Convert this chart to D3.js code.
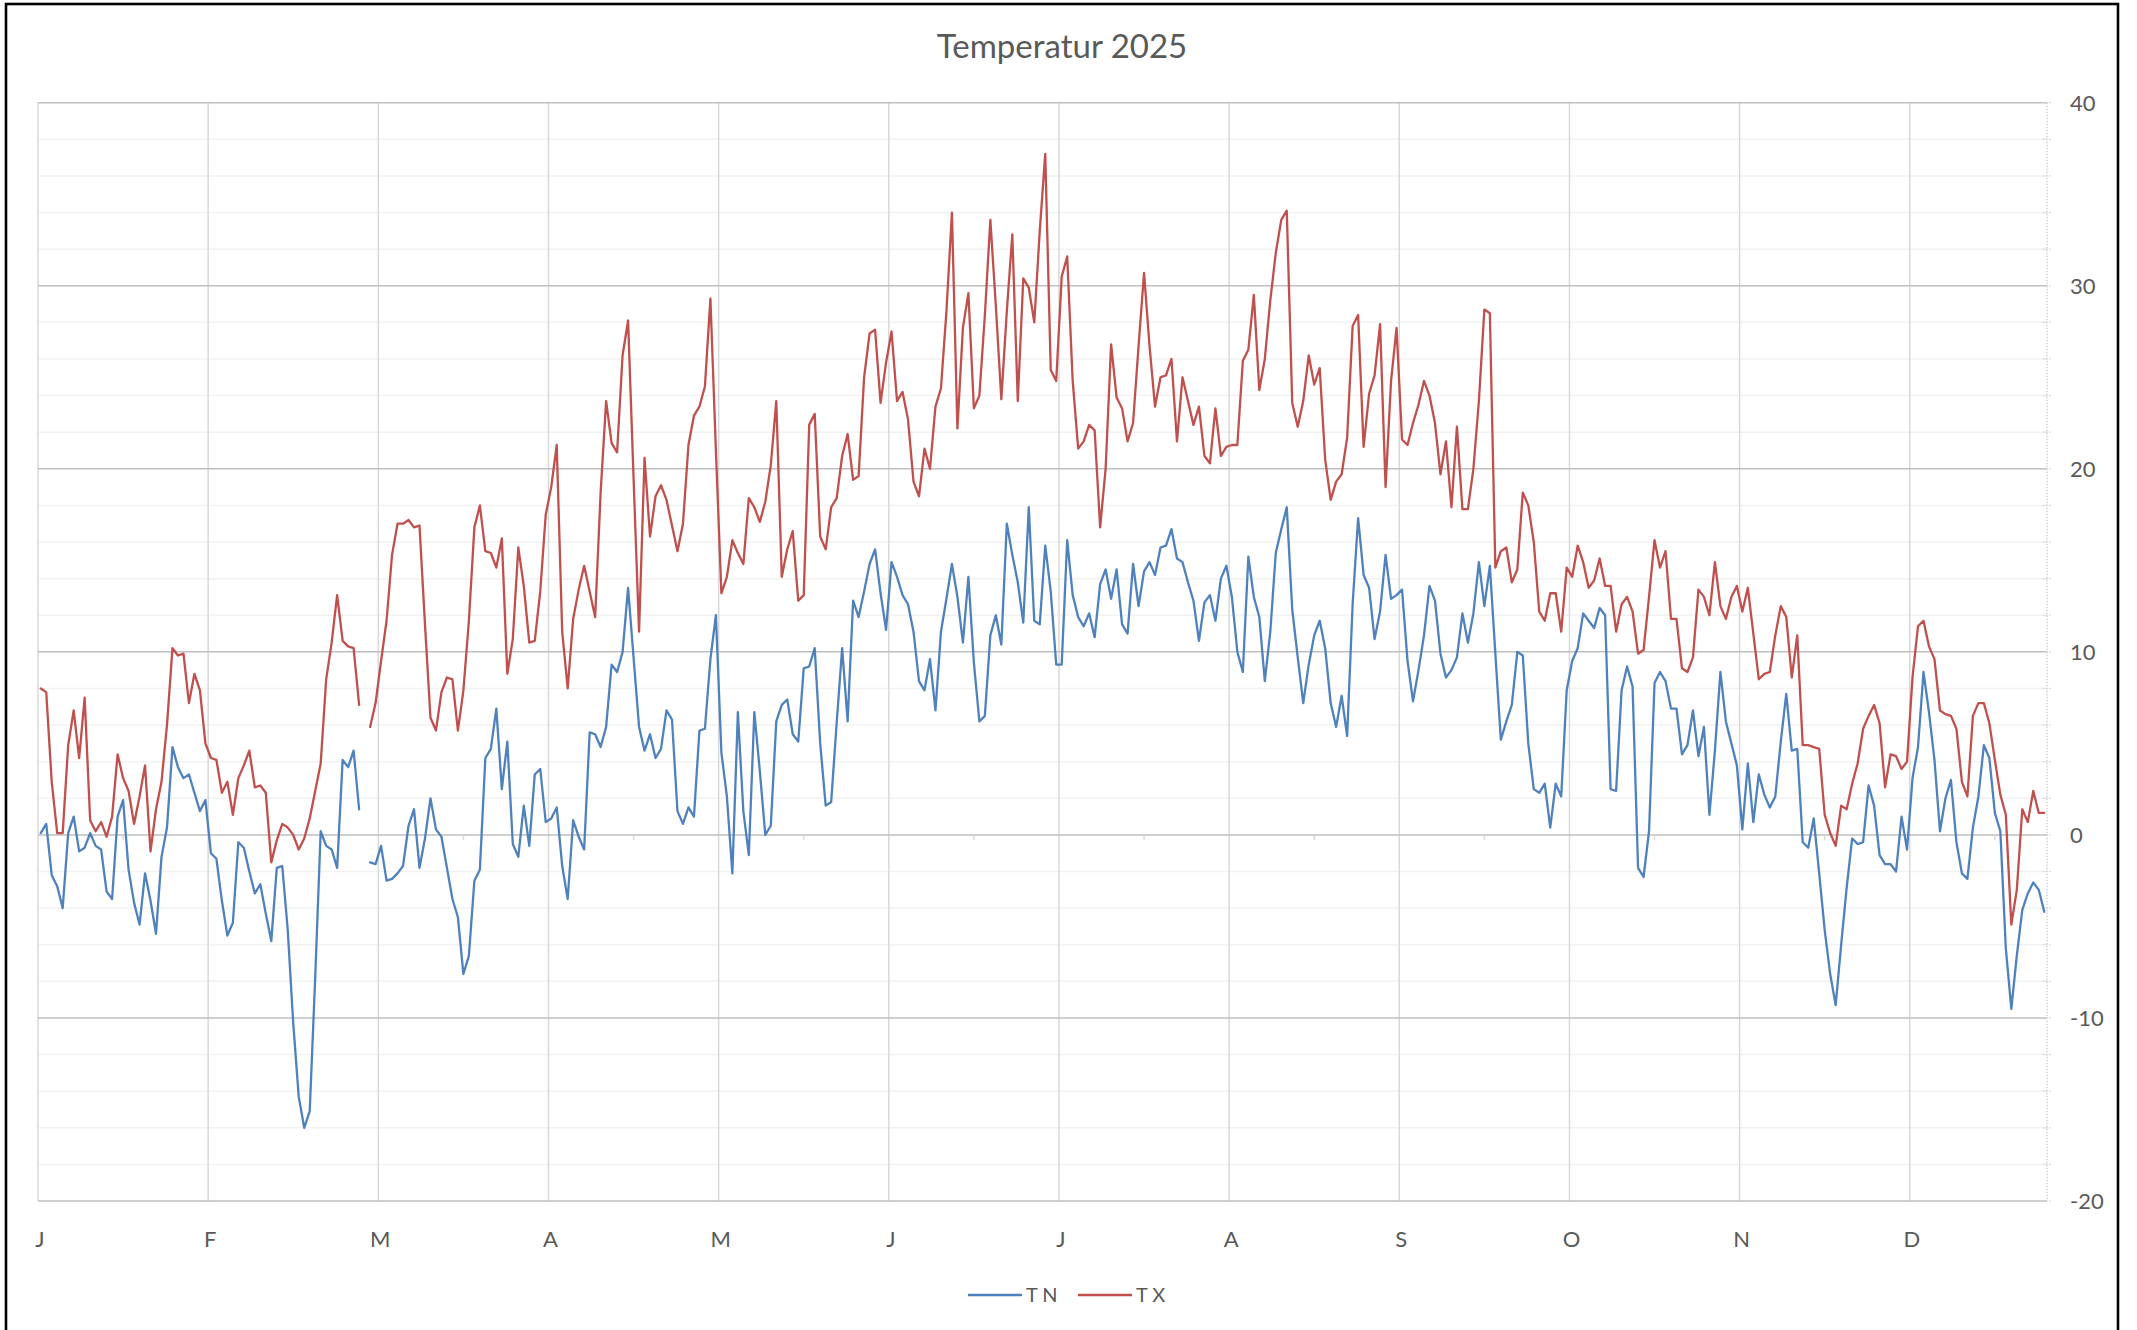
<!DOCTYPE html>
<html>
<head>
<meta charset="utf-8">
<title>Temperatur 2025</title>
<script src="https://cdn.jsdelivr.net/npm/d3@7"></script>
<style>
  html, body { margin: 0; padding: 0; background: #fff; }
  svg { display: block; font-family: Lato, "Open Sans", sans-serif; }
</style>
</head>
<body>
<svg id="chart" width="2137" height="1330"></svg>
<script>
'use strict';

// category template: 366 rows, Feb 29 stays empty in 2025
var monthLabels = ["J", "F", "M", "A", "M", "J", "J", "A", "S", "O", "N", "D"];
var templateDays = [31, 29, 31, 30, 31, 30, 31, 31, 30, 31, 30, 31];
var yTicks = [-20, -10, 0, 10, 20, 30, 40];

// TX daily maximum
var txJan = [8.0, 7.8, 2.9, 0.1, 0.1, 4.9, 6.8, 4.2, 7.5, 0.8, 0.2, 0.7, -0.1, 1.0, 4.4, 3.1, 2.4, 0.6, 2.1, 3.8, -0.9, 1.4, 2.9, 6.0, 10.2, 9.8, 9.9, 7.2, 8.8, 7.9, 5.0];
var txFeb = [4.2, 4.1, 2.3, 2.9, 1.1, 3.1, 3.8, 4.6, 2.6, 2.7, 2.3, -1.5, -0.3, 0.6, 0.4, 0.0, -0.8, -0.2, 0.9, 2.4, 3.9, 8.5, 10.5, 13.1, 10.6, 10.3, 10.2, 7.1];
var txMar = [5.9, 7.2, 9.5, 11.7, 15.3, 17.0, 17.0, 17.2, 16.8, 16.9, 11.5, 6.4, 5.7, 7.8, 8.6, 8.5, 5.7, 7.9, 11.7, 16.8, 18.0, 15.5, 15.4, 14.6, 16.2, 8.8, 10.7, 15.7, 13.6, 10.5, 10.6];
var txApr = [13.3, 17.5, 19.0, 21.3, 11.1, 8.0, 11.8, 13.4, 14.7, 13.3, 11.9, 18.7, 23.7, 21.4, 20.9, 26.2, 28.1, 19.5, 11.1, 20.6, 16.3, 18.5, 19.1, 18.3, 16.9, 15.5, 17.0, 21.3, 22.9, 23.4];
var txMay = [24.5, 29.3, 21.0, 13.2, 14.1, 16.1, 15.4, 14.8, 18.4, 17.9, 17.1, 18.2, 20.2, 23.7, 14.1, 15.6, 16.6, 12.8, 13.1, 22.4, 23.0, 16.3, 15.6, 17.9, 18.4, 20.7, 21.9, 19.4, 19.6, 25.0, 27.4];
var txJun = [27.6, 23.6, 25.8, 27.5, 23.7, 24.2, 22.7, 19.3, 18.5, 21.1, 20.0, 23.4, 24.4, 28.6, 34.0, 22.2, 27.7, 29.6, 23.3, 24.0, 28.4, 33.6, 28.9, 23.8, 28.6, 32.8, 23.7, 30.4, 29.9, 28.0];
var txJul = [33.0, 37.2, 25.4, 24.8, 30.5, 31.6, 24.8, 21.1, 21.5, 22.4, 22.1, 16.8, 20.0, 26.8, 23.9, 23.3, 21.5, 22.5, 26.7, 30.7, 26.7, 23.4, 25.0, 25.1, 26.0, 21.5, 25.0, 23.7, 22.4, 23.4, 20.7];
var txAug = [20.3, 23.3, 20.7, 21.2, 21.3, 21.3, 25.9, 26.5, 29.5, 24.3, 26.0, 29.2, 31.8, 33.6, 34.1, 23.6, 22.3, 23.7, 26.2, 24.6, 25.5, 20.5, 18.3, 19.3, 19.7, 21.7, 27.8, 28.4, 21.2, 24.1, 25.1];
var txSep = [27.9, 19.0, 24.8, 27.7, 21.6, 21.3, 22.5, 23.5, 24.8, 24.0, 22.5, 19.7, 21.5, 17.9, 22.3, 17.8, 17.8, 20.0, 23.7, 28.7, 28.5, 14.6, 15.5, 15.7, 13.8, 14.5, 18.7, 18.0, 16.0, 12.2];
var txOct = [11.7, 13.2, 13.2, 11.1, 14.6, 14.1, 15.8, 14.9, 13.5, 13.9, 15.1, 13.6, 13.6, 11.1, 12.6, 13.0, 12.2, 9.9, 10.1, 13.0, 16.1, 14.6, 15.5, 11.8, 11.8, 9.1, 8.9, 9.7, 13.4, 13.0, 12.0];
var txNov = [14.9, 12.5, 11.8, 13.0, 13.6, 12.2, 13.5, 11.0, 8.5, 8.8, 8.9, 10.9, 12.5, 11.9, 8.6, 10.9, 4.9, 4.9, 4.8, 4.7, 1.1, 0.1, -0.6, 1.6, 1.4, 2.8, 3.9, 5.8, 6.5, 7.1];
var txDec = [6.1, 2.6, 4.4, 4.3, 3.6, 4.0, 8.6, 11.4, 11.7, 10.3, 9.6, 6.8, 6.6, 6.5, 5.8, 2.9, 2.1, 6.5, 7.2, 7.2, 6.1, 4.1, 2.2, 1.1, -4.9, -3.0, 1.4, 0.7, 2.4, 1.2, 1.2];

// TN daily minimum
var tnJan = [0.1, 0.6, -2.2, -2.8, -4.0, 0.1, 1.0, -0.9, -0.7, 0.1, -0.6, -0.8, -3.1, -3.5, 1.0, 1.9, -1.9, -3.7, -4.9, -2.1, -3.6, -5.4, -1.2, 0.4, 4.8, 3.7, 3.1, 3.3, 2.3, 1.3, 1.9];
var tnFeb = [-1.0, -1.3, -3.6, -5.5, -4.8, -0.4, -0.7, -2.0, -3.2, -2.7, -4.3, -5.8, -1.8, -1.7, -5.2, -10.3, -14.3, -16.0, -15.1, -7.8, 0.2, -0.6, -0.8, -1.8, 4.1, 3.7, 4.6, 1.4];
var tnMar = [-1.5, -1.6, -0.6, -2.5, -2.4, -2.1, -1.7, 0.5, 1.4, -1.8, -0.2, 2.0, 0.3, -0.1, -1.8, -3.5, -4.5, -7.6, -6.6, -2.5, -1.9, 4.2, 4.7, 6.9, 2.5, 5.1, -0.5, -1.2, 1.6, -0.6, 3.3];
var tnApr = [3.6, 0.7, 0.9, 1.5, -1.7, -3.5, 0.8, -0.1, -0.8, 5.6, 5.5, 4.8, 5.9, 9.3, 8.9, 10.0, 13.5, 9.7, 5.9, 4.6, 5.5, 4.2, 4.7, 6.8, 6.3, 1.3, 0.6, 1.5, 1.0, 5.7];
var tnMay = [5.8, 9.6, 12.0, 4.5, 2.1, -2.1, 6.7, 1.3, -1.1, 6.7, 3.5, 0.0, 0.5, 6.2, 7.1, 7.4, 5.5, 5.1, 9.1, 9.2, 10.2, 5.0, 1.6, 1.8, 6.1, 10.2, 6.2, 12.8, 11.9, 13.3, 14.8];
var tnJun = [15.6, 13.2, 11.2, 14.9, 14.1, 13.1, 12.6, 11.1, 8.4, 7.9, 9.6, 6.8, 11.1, 12.9, 14.8, 13.0, 10.5, 14.1, 9.4, 6.2, 6.5, 10.9, 12.0, 10.4, 17.0, 15.3, 13.8, 11.6, 17.9, 11.7];
var tnJul = [11.5, 15.8, 13.3, 9.3, 9.3, 16.1, 13.1, 11.9, 11.4, 12.1, 10.8, 13.7, 14.5, 12.9, 14.5, 11.5, 11.0, 14.8, 12.5, 14.4, 14.9, 14.2, 15.7, 15.8, 16.7, 15.1, 14.9, 13.8, 12.8, 10.6, 12.7];
var tnAug = [13.1, 11.7, 14.0, 14.7, 13.0, 10.0, 8.9, 15.2, 13.0, 11.9, 8.4, 11.1, 15.4, 16.7, 17.9, 12.3, 9.7, 7.2, 9.3, 10.9, 11.7, 10.2, 7.2, 5.9, 7.6, 5.4, 12.6, 17.3, 14.2, 13.5, 10.7];
var tnSep = [12.2, 15.3, 12.9, 13.1, 13.4, 9.5, 7.3, 9.0, 10.9, 13.6, 12.8, 9.9, 8.6, 9.0, 9.7, 12.1, 10.5, 12.1, 14.9, 12.5, 14.7, 9.9, 5.2, 6.2, 7.1, 10.0, 9.8, 5.0, 2.5, 2.3];
var tnOct = [2.8, 0.4, 2.8, 2.1, 7.9, 9.5, 10.2, 12.1, 11.7, 11.3, 12.4, 12.0, 2.5, 2.4, 7.9, 9.2, 8.1, -1.8, -2.3, 0.2, 8.3, 8.9, 8.4, 6.9, 6.9, 4.4, 4.9, 6.8, 4.3, 5.9, 1.1];
var tnNov = [4.6, 8.9, 6.2, 5.0, 3.8, 0.3, 3.9, 0.7, 3.3, 2.2, 1.5, 2.1, 5.1, 7.7, 4.6, 4.7, -0.4, -0.7, 0.9, -2.1, -5.2, -7.6, -9.3, -6.0, -2.9, -0.2, -0.5, -0.4, 2.7, 1.6];
var tnDec = [-1.1, -1.6, -1.6, -2.0, 1.0, -0.8, 3.1, 4.8, 8.9, 6.7, 4.1, 0.2, 2.0, 3.0, -0.4, -2.1, -2.4, 0.4, 2.1, 4.9, 4.2, 1.2, 0.2, -6.2, -9.5, -6.6, -4.1, -3.2, -2.6, -3.0, -4.2];

var txMonths = [txJan, txFeb, txMar, txApr, txMay, txJun, txJul, txAug, txSep, txOct, txNov, txDec];
var tnMonths = [tnJan, tnFeb, tnMar, tnApr, tnMay, tnJun, tnJul, tnAug, tnSep, tnOct, tnNov, tnDec];

// flatten onto the 366 row template
function buildSeries(months) {
  var out = [];
  templateDays.forEach(function(n, m) {
    for (var d = 0; d < n; d++) {
      var v = months[m][d];
      out.push({ i: out.length, v: (v === undefined ? null : v) });
    }
  });
  return out;
}

var tn = buildSeries(tnMonths);
var tx = buildSeries(txMonths);
var nCats = tn.length;

// month tick every 31 categories, label = month of that row
var monthOfRow = [];
templateDays.forEach(function(n, m) { for (var d = 0; d < n; d++) monthOfRow.push(m); });
var catTicks = d3.range(0, nCats, 31);

var svg = d3.select("#chart"),
    plot = {left: 38, right: 2047, top: 102.7, bottom: 1201};

var x = d3.scaleLinear().domain([0, nCats]).range([plot.left, plot.right]);
var y = d3.scaleLinear().domain([-20, 40]).range([plot.bottom, plot.top]);

svg.append("rect")
    .attr("x", 6).attr("y", 4)
    .attr("width", 2112).attr("height", 1340)
    .attr("fill", "#fff")
    .attr("stroke", "#000")
    .attr("stroke-width", 2.6);

svg.append("text")
    .attr("x", 1062)
    .attr("y", 58)
    .attr("text-anchor", "middle")
    .attr("fill", "#595959")
    .style("font-size", "33px")
    .text("Temperatur 2025");

var grid = svg.append("g");

// minor horizontal gridlines every 2 degrees
grid.selectAll(".minor")
  .data(d3.range(-20, 41, 2).filter(function(v) { return v % 10 !== 0; }))
  .enter().append("line")
    .attr("x1", plot.left).attr("x2", plot.right)
    .attr("y1", function(d) { return y(d); })
    .attr("y2", function(d) { return y(d); })
    .attr("stroke", "#f2f2f2")
    .attr("stroke-width", 1.5);

// vertical month lines
grid.selectAll(".month")
  .data(catTicks)
  .enter().append("line")
    .attr("x1", function(d) { return x(d); })
    .attr("x2", function(d) { return x(d); })
    .attr("y1", plot.top).attr("y2", plot.bottom)
    .attr("stroke", "#d9d9d9")
    .attr("stroke-width", 1.5);

// major horizontal gridlines
grid.selectAll(".major")
  .data(yTicks)
  .enter().append("line")
    .attr("x1", plot.left).attr("x2", plot.right)
    .attr("y1", function(d) { return y(d); })
    .attr("y2", function(d) { return y(d); })
    .attr("stroke", "#bfbfbf")
    .attr("stroke-width", 1.5);

// minor ticks on the category axis (crosses at 0)
grid.selectAll(".ctick")
  .data(catTicks.map(function(d) { return d + 15.5; }).filter(function(d) { return d < nCats; }))
  .enter().append("line")
    .attr("x1", function(d) { return x(d); })
    .attr("x2", function(d) { return x(d); })
    .attr("y1", y(0)).attr("y2", y(0) + 5)
    .attr("stroke", "#d9d9d9")
    .attr("stroke-width", 1.5);

// value axis on the right, dotted
grid.append("line")
    .attr("x1", plot.right).attr("x2", plot.right)
    .attr("y1", plot.top).attr("y2", plot.bottom)
    .attr("stroke", "#c8c8c8")
    .attr("stroke-width", 1.2)
    .attr("stroke-dasharray", "1.5,1.5");

grid.selectAll(".vtick")
  .data(d3.range(-20, 41, 2))
  .enter().append("line")
    .attr("x1", plot.right - 4).attr("x2", plot.right + 4)
    .attr("y1", function(d) { return y(d); })
    .attr("y2", function(d) { return y(d); })
    .attr("stroke", "#d0d0d0")
    .attr("stroke-width", 1.2)
    .attr("stroke-dasharray", "1.5,1.5");

// axis labels
svg.append("g").selectAll("text")
  .data(yTicks)
  .enter().append("text")
    .attr("x", 2070)
    .attr("y", function(d) { return y(d); })
    .attr("dy", "0.36em")
    .attr("fill", "#595959")
    .style("font-size", "22px")
    .text(function(d) { return d; });

svg.append("g").selectAll("text")
  .data(catTicks)
  .enter().append("text")
    .attr("x", function(d) { return x(d) + 2; })
    .attr("y", 1239)
    .attr("dy", "0.36em")
    .attr("text-anchor", "middle")
    .attr("fill", "#595959")
    .style("font-size", "22px")
    .text(function(d) { return monthLabels[monthOfRow[d]]; });

// series
var line = d3.line()
    .defined(function(d) { return d.v !== null; })
    .x(function(d) { return x(d.i + 0.5); })
    .y(function(d) { return y(d.v); });

var series = [
  {name: "T N", data: tn, color: "#4f81bd"},
  {name: "T X", data: tx, color: "#c0504d"}
];

svg.append("g").selectAll("path")
  .data(series)
  .enter().append("path")
    .attr("d", function(s) { return line(s.data); })
    .attr("fill", "none")
    .attr("stroke", function(s) { return s.color; })
    .attr("stroke-width", 2.3)
    .attr("stroke-linejoin", "round")
    .attr("stroke-linecap", "round");

// legend
var legend = svg.append("g").attr("transform", "translate(968,1295)");
var item = legend.selectAll("g")
  .data(series)
  .enter().append("g")
    .attr("transform", function(s, k) { return "translate(" + (k * 110) + ",0)"; });

item.append("line")
    .attr("x1", 0).attr("x2", 54)
    .attr("stroke", function(s) { return s.color; })
    .attr("stroke-width", 2.3);

item.append("text")
    .attr("x", 58)
    .attr("dy", "0.36em")
    .attr("fill", "#595959")
    .style("font-size", "20px")
    .text(function(s) { return s.name; });
</script>
</body>
</html>
